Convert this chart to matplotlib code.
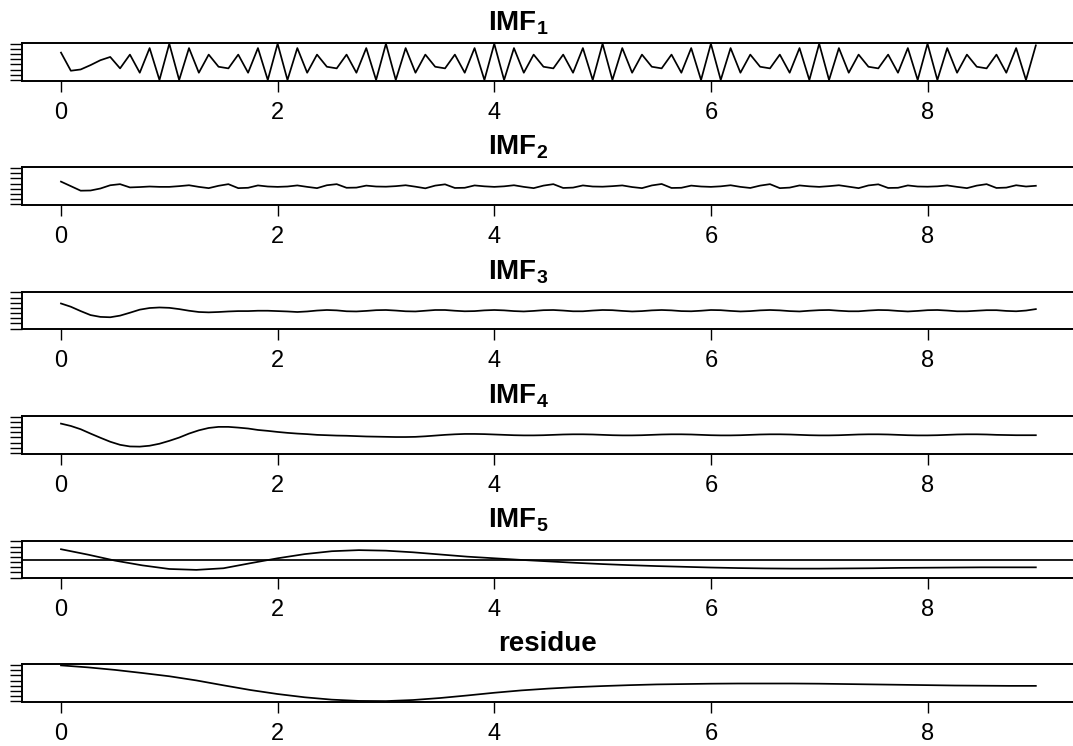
import numpy as np
import matplotlib
matplotlib.use("Agg")
import matplotlib.pyplot as plt

plt.rcParams["font.family"] = ["Liberation Sans", "DejaVu Sans"]
plt.rcParams["mathtext.fontset"] = "custom"
plt.rcParams["mathtext.rm"] = "Liberation Sans"
plt.rcParams["mathtext.bf"] = "Liberation Sans:bold"

# 100 samples over 0..9 (11 per unit), smooth components read every 0.25
t = np.linspace(0, 9, 100)
t_smooth = np.linspace(0, 9, 37)

imf1 = [0.51, -0.49, -0.42, -0.18, 0.09, 0.27, -0.36, 0.40, -0.60, 0.76, -1.00,
        1.00, -1.00, 0.76, -0.60, 0.40, -0.27, -0.36, 0.40, -0.60, 0.76, -1.00,
        1.00, -1.00, 0.76, -0.60, 0.40, -0.27, -0.36, 0.40, -0.60, 0.76, -1.00,
        1.00, -1.00, 0.76, -0.60, 0.40, -0.27, -0.36, 0.40, -0.60, 0.76, -1.00,
        1.00, -1.00, 0.76, -0.60, 0.40, -0.27, -0.36, 0.40, -0.60, 0.76, -1.00,
        1.00, -1.00, 0.76, -0.60, 0.40, -0.27, -0.36, 0.40, -0.60, 0.76, -1.00,
        1.00, -1.00, 0.76, -0.60, 0.40, -0.27, -0.36, 0.40, -0.60, 0.76, -1.00,
        1.00, -1.00, 0.76, -0.60, 0.40, -0.27, -0.36, 0.40, -0.60, 0.76, -1.00,
        1.00, -1.00, 0.76, -0.60, 0.40, -0.27, -0.36, 0.40, -0.60, 0.76, -1.00,
        0.91]

imf2 = [0.25, 0.00, -0.25, -0.24, -0.13, 0.05, 0.11, -0.07, -0.05, -0.02, -0.04,
        -0.04, 0.00, 0.05, -0.04, -0.11, 0.02, 0.11, -0.11, -0.09, 0.04, -0.02,
        -0.04, -0.02, 0.04, -0.04, -0.11, 0.05, 0.11, -0.09, -0.08, 0.03, -0.02,
        -0.03, 0.00, 0.05, -0.03, -0.12, 0.03, 0.10, -0.10, -0.09, 0.04, -0.01,
        -0.04, -0.01, 0.05, -0.04, -0.11, 0.03, 0.11, -0.10, -0.08, 0.04, -0.02,
        -0.03, 0.00, 0.04, -0.05, -0.11, 0.04, 0.12, -0.10, -0.09, 0.03, -0.02,
        -0.04, -0.01, 0.05, -0.04, -0.10, 0.03, 0.11, -0.11, -0.08, 0.04, -0.01,
        -0.04, 0.00, 0.05, -0.03, -0.11, 0.04, 0.10, -0.10, -0.09, 0.04, -0.02,
        -0.03, -0.01, 0.04, -0.04, -0.11, 0.03, 0.11, -0.10, -0.08, 0.05, -0.02,
        0.02]

imf3 = [0.39, 0.21, -0.03, -0.25, -0.35, -0.37, -0.28, -0.12, 0.05, 0.14, 0.17,
        0.15, 0.08, -0.01, -0.08, -0.10, -0.08, -0.05, -0.03, -0.03, -0.01, -0.01,
        -0.03, -0.05, -0.08, -0.05, 0.00, 0.03, 0.01, -0.04, -0.05, -0.02, 0.02,
        0.03, 0.00, -0.04, -0.05, -0.01, 0.03, 0.03, -0.01, -0.04, -0.03, 0.01,
        0.03, 0.01, -0.03, -0.05, -0.02, 0.02, 0.03, 0.00, -0.04, -0.04, 0.00,
        0.03, 0.02, -0.02, -0.05, -0.03, 0.01, 0.03, 0.01, -0.03, -0.04, -0.01,
        0.03, 0.02, -0.02, -0.05, -0.03, 0.01, 0.03, 0.01, -0.03, -0.05, -0.01,
        0.02, 0.03, -0.01, -0.04, -0.04, 0.00, 0.03, 0.02, -0.02, -0.05, -0.02,
        0.02, 0.03, 0.00, -0.04, -0.04, -0.01, 0.02, 0.02, -0.02, -0.04, 0.00,
        0.08]

imf4 = [0.62, 0.49, 0.31, 0.07, -0.16, -0.38, -0.55, -0.64, -0.65, -0.60, -0.49,
        -0.33, -0.15, 0.07, 0.25, 0.38, 0.44, 0.44, 0.40, 0.35, 0.27, 0.22,
        0.16, 0.11, 0.07, 0.04, 0.00, -0.02, -0.04, -0.05, -0.07, -0.09, -0.10,
        -0.11, -0.12, -0.12, -0.11, -0.08, -0.04, 0.00, 0.03, 0.05, 0.05, 0.04,
        0.02, 0.00, -0.02, -0.03, -0.03, -0.02, 0.00, 0.02, 0.03, 0.03, 0.02,
        0.00, -0.02, -0.03, -0.03, -0.02, 0.00, 0.02, 0.03, 0.03, 0.02, 0.00,
        -0.02, -0.03, -0.03, -0.02, 0.00, 0.02, 0.03, 0.03, 0.02, 0.00, -0.02,
        -0.03, -0.03, -0.02, 0.00, 0.02, 0.03, 0.03, 0.02, 0.00, -0.02, -0.03,
        -0.03, -0.02, 0.00, 0.02, 0.03, 0.03, 0.02, 0.00, -0.01, -0.02, -0.02,
        -0.02]

imf5 = [0.57, 0.27, -0.06, -0.32, -0.52, -0.57, -0.48, -0.20, 0.07, 0.30,
        0.46, 0.52, 0.49, 0.40, 0.28, 0.16, 0.07, -0.02, -0.10, -0.18,
        -0.25, -0.31, -0.36, -0.40, -0.44, -0.47, -0.49, -0.50, -0.50, -0.49,
        -0.48, -0.46, -0.45, -0.44, -0.43, -0.43, -0.43]

residue = [0.98, 0.87, 0.73, 0.56, 0.38, 0.15, -0.12, -0.38, -0.60, -0.78,
           -0.91, -0.98, -0.99, -0.93, -0.82, -0.68, -0.53, -0.40, -0.30, -0.22,
           -0.16, -0.11, -0.07, -0.05, -0.03, -0.02, -0.02, -0.02, -0.03, -0.05,
           -0.07, -0.09, -0.11, -0.13, -0.14, -0.15, -0.15]

titles = [r"$\mathbf{IMF}_{\mathbf{1}}$", r"$\mathbf{IMF}_{\mathbf{2}}$",
          r"$\mathbf{IMF}_{\mathbf{3}}$", r"$\mathbf{IMF}_{\mathbf{4}}$",
          r"$\mathbf{IMF}_{\mathbf{5}}$", "residue"]
xticks = [0, 2, 4, 6, 8]

W, H = 1073, 746
fig = plt.figure(figsize=(W / 100, H / 100), dpi=100)

panel_top = [43.0, 167.3, 291.7, 416.0, 540.7, 664.3]
panel_h = 37.7
# the right edge of the boxes runs just past the picture, as in the original
left_px, right_px = 22.0, 1077.0

series = [(t, imf1), (t, imf2), (t, imf3), (t, imf4), (t_smooth, imf5), (t_smooth, residue)]

for i, ((x, y), title) in enumerate(zip(series, titles)):
    top = panel_top[i]
    ax = fig.add_axes([left_px / W, 1 - (top + panel_h) / H,
                       (right_px - left_px) / W, panel_h / H])
    ax.plot(x, y, color="black", lw=1.25)
    if i == 4:
        ax.axhline(0, color="black", lw=1.25)
    ax.set_xlim(-0.36, 9.38)
    ax.set_ylim(-1.04, 1.04)
    ax.set_xticks(xticks)
    ax.set_xticklabels([str(v) for v in xticks])
    ax.set_yticks(np.linspace(-1, 1, 8))
    ax.set_yticklabels([])
    ax.tick_params(axis="x", direction="out", length=8, width=1.0, pad=7,
                   labelsize=17, colors="black")
    ax.tick_params(axis="y", direction="out", length=8.3, width=1.0)
    for s in ax.spines.values():
        s.set_linewidth(1.4)
    # titles sit a bit left of centre for the IMF panels, as in the original
    cx = 547 if title == "residue" else 518
    fig.text(cx / W, 1 - (top - 13) / H, title, ha="center", va="baseline",
             fontsize=20, fontweight="bold")

fig.savefig("out.png", dpi=100)
